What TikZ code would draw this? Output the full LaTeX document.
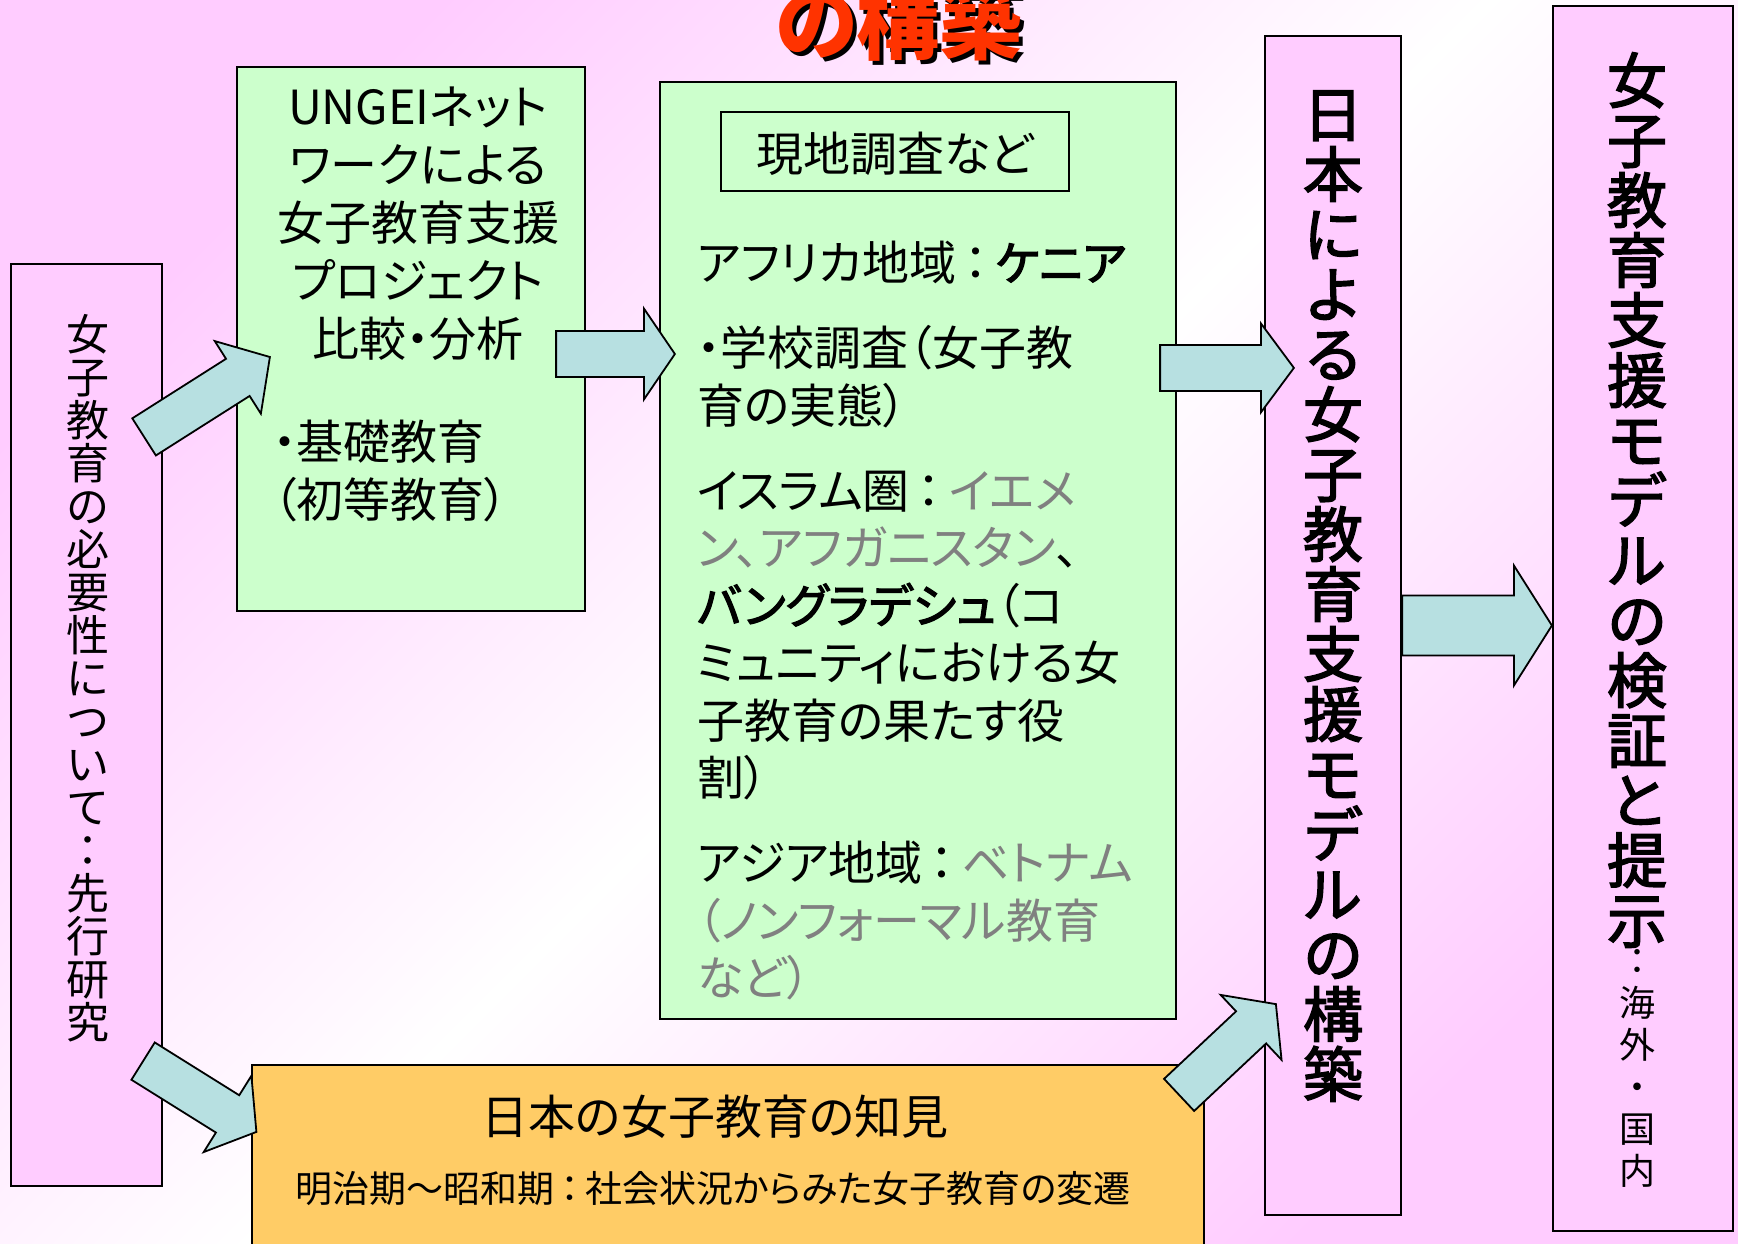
\documentclass[tikz,border=0pt]{standalone}
\usepackage{fontspec}
\setmainfont{Noto Sans CJK JP}[RawFeature=+palt]
\newfontfamily\heavyjp{Noto Sans CJK JP}[RawFeature=+palt, FakeBold=2.5]
\usetikzlibrary{calc,fit}

\definecolor{bgpink}{RGB}{255,204,255}
\definecolor{boxpink}{RGB}{255,204,255}
\definecolor{boxgreen}{RGB}{204,255,204}
\definecolor{boxorange}{RGB}{255,204,102}
\definecolor{arrowblue}{RGB}{183,224,225}
\definecolor{titlered}{RGB}{255,51,0}
\definecolor{notegray}{RGB}{128,128,128}

\pgfdeclarehorizontalshading{bgfade}{100bp}{color(0bp)=(bgpink); color(25bp)=(bgpink); color(50bp)=(white); color(75bp)=(bgpink); color(100bp)=(bgpink)}

\tikzset{every picture/.style={line width=1.1pt}}
\tikzset{
  box/.style={draw, inner sep=0pt},
  pinkbox/.style={box, fill=boxpink},
  greenbox/.style={box, fill=boxgreen},
  orangebox/.style={box, fill=boxorange},
  blockarr/.style={draw, fill=arrowblue, line width=0.9pt, line join=miter},
  txt/.style={inner sep=0pt, font=\fontsize{23.5pt}{29pt}\selectfont},
  fieldtxt/.style={inner sep=0pt, align=left, anchor=north west, font=\fontsize{23.5pt}{28.75pt}\selectfont},
  subtxt/.style={inner sep=0pt, font=\fontsize{18.5pt}{22pt}\selectfont},
  vtxt/.style={inner sep=0pt, align=center, font=\fontsize{21.5pt}{21.5pt}\selectfont},
  vbig/.style={inner sep=0pt, align=center, font=\fontsize{30pt}{30pt}\selectfont\heavyjp},
  vsmall/.style={inner sep=0pt, align=center, font=\fontsize{18pt}{21pt}\selectfont},
  titletxt/.style={inner sep=0pt, font=\fontsize{41.5pt}{41.5pt}\selectfont\bfseries}
}

% block arrow: tail, tip, half width, half barb width, head length
\newcommand{\fatarrow}[5]{%
  \coordinate (fa-h) at ($(#2)!#5!(#1)$);
  \filldraw[blockarr] ($(#1)!#3!90:(#2)$) -- ($(fa-h)!#3!-90:(#1)$) -- ($(fa-h)!#4!-90:(#1)$) -- (#2)
    -- ($(fa-h)!#4!90:(#1)$) -- ($(fa-h)!#3!90:(#1)$) -- ($(#1)!#3!-90:(#2)$) -- cycle;
}

\begin{document}
\begin{tikzpicture}[x=0.5pt,y=0.5pt,yscale=-1,xscale=1]
	\useasboundingbox (0,0) rectangle (1738,1243);
	\clip (0,0) rectangle (1738,1243);

	% background
	\shade[shading=bgfade, shading angle=-45] (0,0) rectangle (1738,1243);

	% title (cut at the top)
	\node[titletxt, text=black] at (903,26) {の構築};
	\node[titletxt, text=titlered] (title) at (899,22) {の構築};

	% boxes
	\node[pinkbox, fit={(11,264) (162,1186)}] (need) {};
	\node[greenbox, fit={(237,67) (585,611)}] (ungei) {};
	\node[greenbox, fit={(660,82) (1176,1019)}] (field) {};
	\node[box, fit={(721,112) (1069,191)}] (survey) {};
	\node[orangebox, fit={(252,1065) (1204,1300)}] (know) {};
	\node[pinkbox, fit={(1265,36) (1401,1215)}] (model) {};
	\node[pinkbox, fit={(1553,6) (1733,1231)}] (verify) {};

	% texts
	\node[vtxt] (needtxt) at (88,678) {女\\子\\教\\育\\の\\必\\要\\性\\に\\つ\\い\\て\\：\\先\\行\\研\\究};
	\node[txt, align=center] (ungeitxt) at (418,224) {UNGEIネット\\ワークによる\\女子教育支援\\プロジェクト\\比較・分析};
	\node[txt, align=left, anchor=west] (basictxt) at (272,471) {・基礎教育\\（初等教育）};
	\node[txt] (surveytxt) at (895,154) {現地調査など};
	\node[fieldtxt] (fieldtxt) at (696,240) {アフリカ地域\,：\,{\heavyjp ケニア}\\[13.75pt]
		・学校調査（女子教\\
		育の実態）\\[13.75pt]
		イスラム圏\,：\,\textcolor{notegray}{イエメ}\\
		\textcolor{notegray}{ン、アフガニスタン}、\\
		{\heavyjp バングラデシュ}（コ\\
		ミュニティにおける女\\
		子教育の果たす役\\
		割）\\[13.75pt]
		アジア地域\,：\,\textcolor{notegray}{ベトナム}\\
		\textcolor{notegray}{（ノンフォーマル教育}\\
		\textcolor{notegray}{など）}};
	\node[txt] (knowtxt) at (715,1117) {日本の女子教育の知見};
	\node[subtxt] (knowsub) at (713,1189) {明治期～昭和期\,：\,社会状況からみた女子教育の変遷};
	\node[vbig] (modeltxt) at (1333,596) {日\\本\\に\\よ\\る\\女\\子\\教\\育\\支\\援\\モ\\デ\\ル\\の\\構\\築};
	\node[vbig] (verifytxt) at (1637,500) {女\\子\\教\\育\\支\\援\\モ\\デ\\ル\\の\\検\\証\\と\\提\\示};
	\node[vsmall] (wheretxt) at (1637,1068) {：\\海\\外\\・\\国\\内};

	% arrows
	\coordinate (a1s) at ($(need.north east)+(-19,174)$);
	\coordinate (a1e) at ($(ungei.west)+(34,18)$);
	\coordinate (a2s) at ($(ungei.east)+(-30,15)$);
	\coordinate (a2e) at ($(a2s -| field.west)+(16,0)$);
	\coordinate (a3s) at ($(field.north east)+(-17,287)$);
	\coordinate (a3e) at ($(a3s -| model.west)+(30,0)$);
	\coordinate (a4s) at (model.east);
	\coordinate (a4e) at (a4s -| verify.west);
	\coordinate (a5s) at ($(know.north east)+(-26,31)$);
	\coordinate (a5e) at ($(model.south west)+(12,-212)$);
	\coordinate (a6s) at ($(need.south east)+(-20,-126)$);
	\coordinate (a6e) at ($(know.north west)+(5.5,68)$);

	\fatarrow{a1s}{a1e}{11pt}{21.5pt}{19pt}
	\fatarrow{a2s}{a2e}{11.5pt}{22.75pt}{15.5pt}
	\fatarrow{a3s}{a3e}{11.5pt}{22.25pt}{16.5pt}
	\fatarrow{a4s}{a4e}{15pt}{30pt}{19pt}
	\fatarrow{a5s}{a5e}{11pt}{22.25pt}{17pt}
	\fatarrow{a6s}{a6e}{11pt}{22.5pt}{17pt}

\end{tikzpicture}
\end{document}
